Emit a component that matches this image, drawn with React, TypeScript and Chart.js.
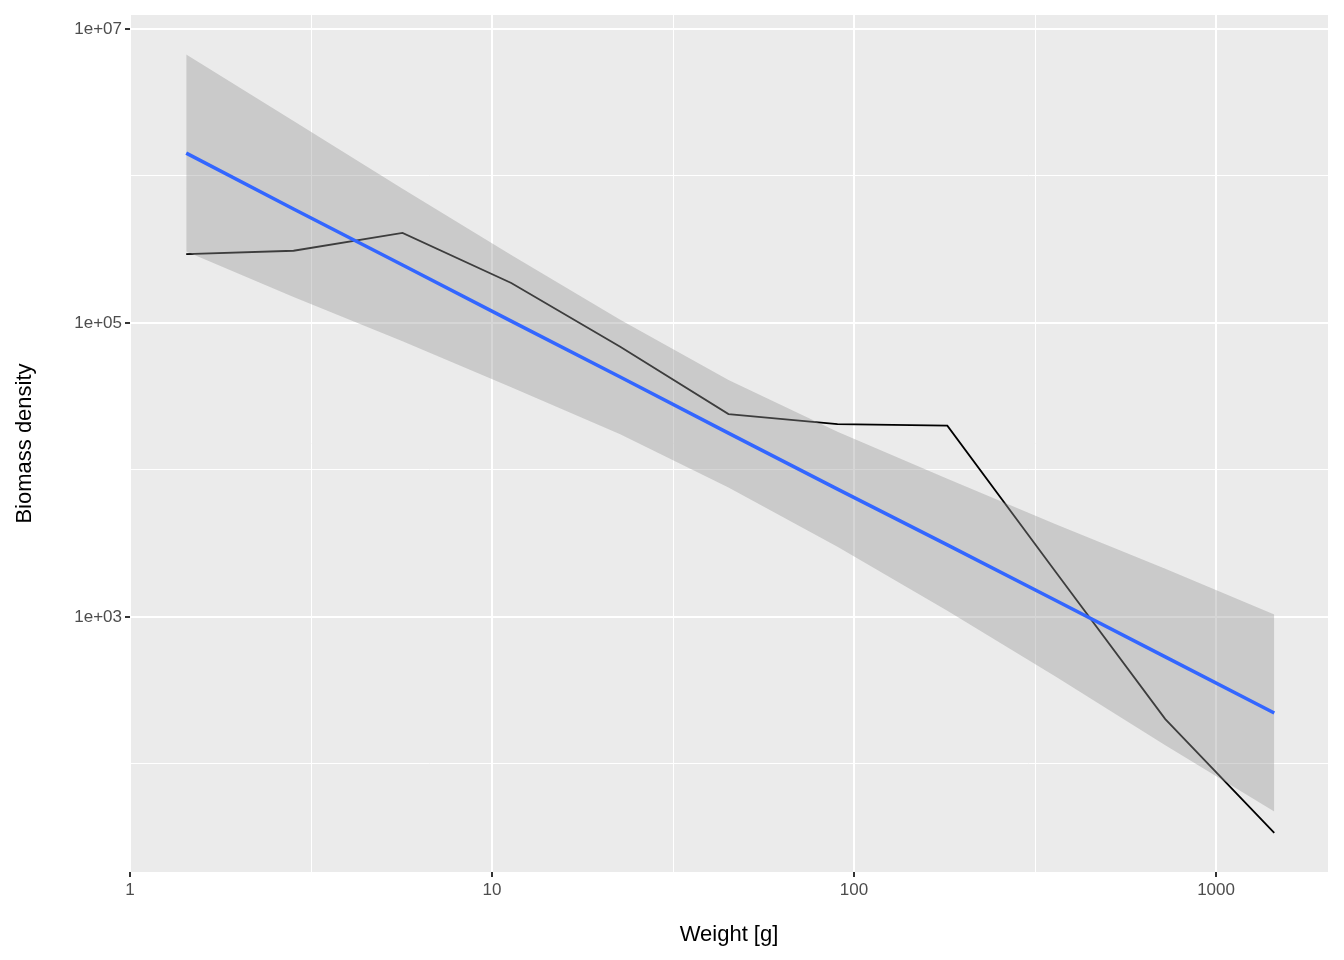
import React, { useEffect, useRef } from "react";
import { Chart, registerables } from "chart.js";
Chart.register(...registerables);

const weights = [1.43, 2.83, 5.66, 11.3, 22.6, 45, 90, 181, 362, 724, 1448];
const observed = [2.94e5, 3.1e5, 4.1e5, 1.87e5, 6.9e4, 2.4e4, 2.05e4, 2.0e4, 2.0e3, 202, 34];
const fitted = [1.43e6, 5.96e5, 2.48e5, 1.03e5, 4.29e4, 1.78e4, 7.4e3, 3.09e3, 1.29e3, 535, 222];
const upper = [6.7e6, 2.37e6, 8.2e5, 2.9e5, 1.05e5, 4.1e4, 1.82e4, 8.7e3, 4.26e3, 2.13e3, 1.04e3];
const lower = [3.06e5, 1.5e5, 7.5e4, 3.66e4, 1.75e4, 7.6e3, 3.0e3, 1.1e3, 390, 134, 47.5];
const xTicks = [1, 3.1623, 10, 31.623, 100, 316.23, 1000];
const yTicks = [1e2, 1e3, 1e4, 1e5, 1e6, 1e7];

const pts = (ys: number[]) => weights.map((x, i) => ({ x, y: ys[i] }));
const isMajorX = (v: number) => Math.abs(Math.log10(v) - Math.round(Math.log10(v))) < 1e-6;
const isMajorY = (v: number) => Math.round(Math.log10(v)) % 2 === 1;

export default function App() {
  const ref = useRef<HTMLCanvasElement>(null);
  useEffect(() => {
    const bg = {
      id: "bg",
      beforeDraw(c: any) {
        const a = c.chartArea;
        c.ctx.save();
        c.ctx.fillStyle = "#EBEBEB";
        c.ctx.fillRect(a.left, a.top, a.right - a.left, a.bottom - a.top);
        c.ctx.restore();
      },
    };
    const chart = new Chart(ref.current!, {
      type: "line",
      data: {
        datasets: [
          { data: pts(upper), order: 2, borderWidth: 0, pointRadius: 0, fill: "+1", backgroundColor: "rgba(153,153,153,0.4)", borderColor: "transparent" },
          { data: pts(lower), order: 2, borderWidth: 0, pointRadius: 0, fill: false, borderColor: "transparent" },
          { data: pts(observed), order: 3, borderColor: "#000000", borderWidth: 1.8, pointRadius: 0, fill: false },
          { data: pts(fitted), order: 1, borderColor: "#3366FF", borderWidth: 3.5, pointRadius: 0, fill: false },
        ],
      },
      options: {
        animation: false,
        responsive: false,
        layout: { padding: { top: 15, right: 16, left: 12, bottom: 0 } },
        plugins: { legend: { display: false }, tooltip: { enabled: false } },
        scales: {
          x: {
            type: "logarithmic",
            min: 1,
            max: 2038,
            afterFit: (s: any) => { s.height = 88; },
            afterBuildTicks: (s: any) => { s.ticks = xTicks.map((v) => ({ value: v })); },
            border: { display: false },
            grid: {
              color: "#FFFFFF",
              lineWidth: (c: any) => (isMajorX(c.tick?.value ?? 1) ? 2 : 1),
              tickLength: 5,
              tickColor: (c: any) => (isMajorX(c.tick?.value ?? 1) ? "#333333" : "transparent"),
            },
            ticks: {
              autoSkip: false,
              maxRotation: 0,
              color: "#4D4D4D",
              font: { family: "Liberation Sans", size: 17 },
              padding: 3,
              callback: (v: any) => (isMajorX(Number(v)) ? String(Math.round(Number(v))) : ""),
            },
            title: { display: true, text: "Weight [g]", color: "#000", font: { family: "Liberation Sans", size: 22 }, padding: { top: 2, bottom: 12 } },
          },
          y: {
            type: "logarithmic",
            min: 18.4,
            max: 1.245e7,
            afterFit: (s: any) => { s.width = 118; },
            afterBuildTicks: (s: any) => { s.ticks = yTicks.map((v) => ({ value: v })); },
            border: { display: false },
            grid: {
              color: "#FFFFFF",
              lineWidth: (c: any) => (isMajorY(c.tick?.value ?? 10) ? 2 : 1),
              tickLength: 5,
              tickColor: (c: any) => (isMajorY(c.tick?.value ?? 10) ? "#333333" : "transparent"),
            },
            ticks: {
              autoSkip: false,
              color: "#4D4D4D",
              font: { family: "Liberation Sans", size: 17 },
              padding: 3,
              callback: (v: any) => {
                const n = Number(v);
                if (!isMajorY(n)) return "";
                const e = Math.round(Math.log10(n));
                return "1e+" + String(e).padStart(2, "0");
              },
            },
            title: { display: true, text: "Biomass density", color: "#000", font: { family: "Liberation Sans", size: 22 }, padding: { top: 0, bottom: 4 } },
          },
        },
      },
      plugins: [bg],
    } as any);
    return () => chart.destroy();
  }, []);
  return (
    <div style={{ position: "absolute", left: 0, top: 0, width: 1344, height: 960, background: "#fff" }}>
      <canvas ref={ref} width={1344} height={960} style={{ width: 1344, height: 960 }} />
    </div>
  );
}
